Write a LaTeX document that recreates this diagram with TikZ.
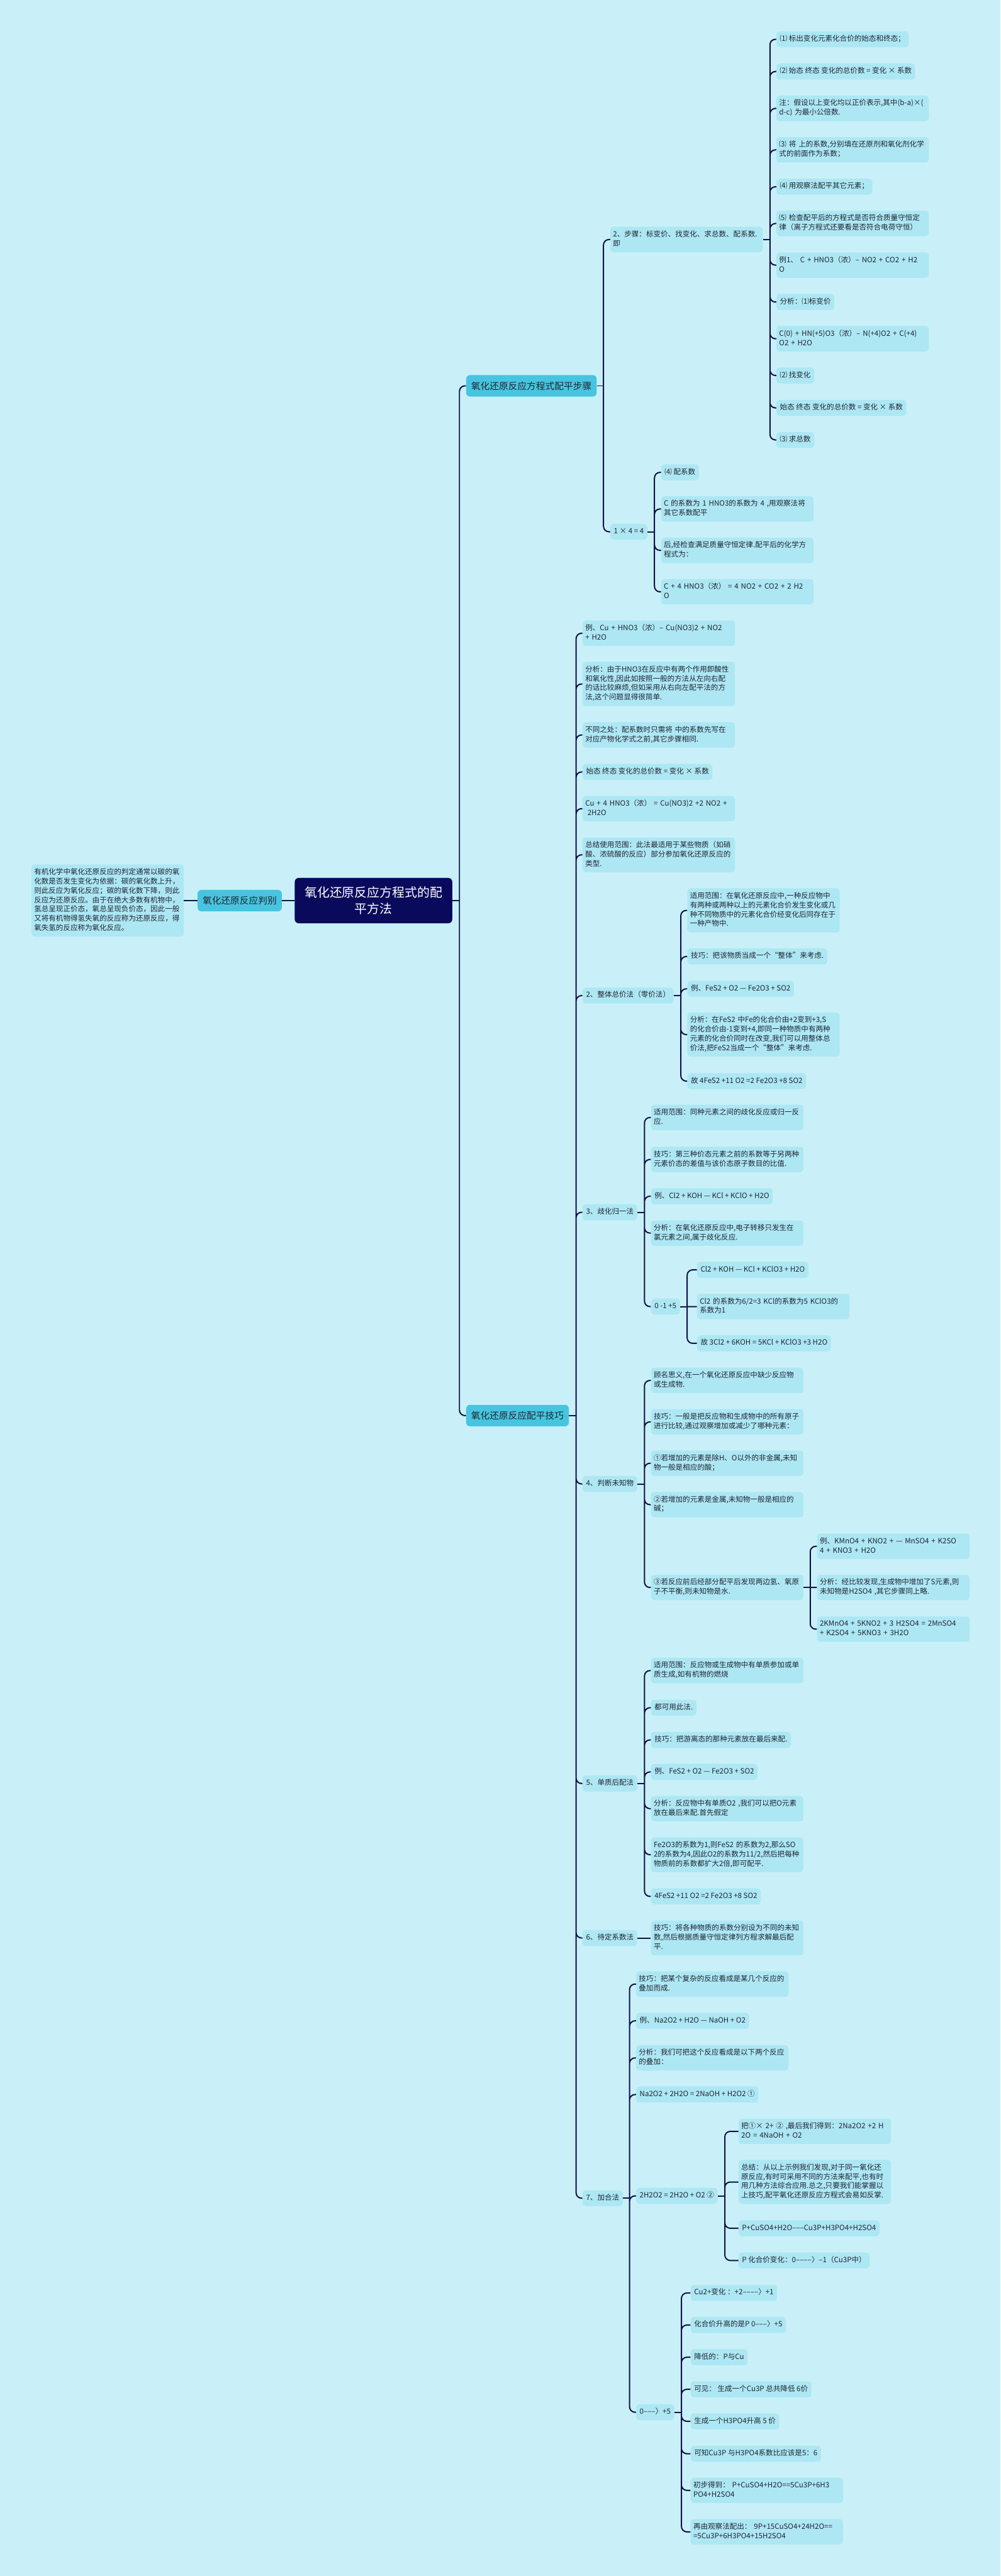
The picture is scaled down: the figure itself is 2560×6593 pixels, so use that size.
\documentclass[tikz,border=0pt]{standalone}
\usepackage{fontspec}
\setmainfont{Noto Sans CJK SC}
\usepackage{tikz}

\definecolor{bgcol}{RGB}{201,240,248}
\definecolor{leafcol}{RGB}{173,231,244}
\definecolor{topiccol}{RGB}{71,197,224}
\definecolor{rootcol}{RGB}{10,10,92}
\definecolor{linecol}{RGB}{17,17,71}
\definecolor{txtcol}{RGB}{33,37,48}

\begin{document}
\begin{tikzpicture}[
      x = 0.5pt, y = -0.5pt,
      link/.style = {draw=linecol, line width=1.6pt, rounded corners=7pt},
      leaf/.style = {fill=leafcol, rounded corners=4pt, text=txtcol, anchor=west,
                     inner xsep=4.5pt, inner ysep=4.25pt,
                     font=\fontsize{9.3}{12}\selectfont, execute at begin node=\strut},
      para/.style = {leaf, text width=188pt, align=left, inner xsep=3.5pt,
                     execute at end node=\strut},
      topic/.style = {fill=topiccol, rounded corners=5pt, text=txtcol, anchor=west,
                      inner xsep=6.5pt, minimum height=27.5pt,
                      font=\fontsize{11.85}{14}\selectfont},
      rootbox/.style = {fill=rootcol, rounded corners=5pt, text=white, align=center,
                        minimum width=201.5pt, minimum height=58pt,
                        font=\fontsize{16}{20.8}\selectfont}]

      \useasboundingbox (0,0) rectangle (2560,6593);
      \fill[bgcol] (0,0) rectangle (2560,6593);

      % centre and left side
      \node[rootbox] (root) at (955.5,2305) {氧化还原反应方程式的配\\平方法};
      \node[topic] (judge) at (505,2305) {氧化还原反应判别};
      \node[para] (organic) at (80,2305) {有机化学中氧化还原反应的判定通常以碳的氧\\化数是否发生变化为依据：碳的氧化数上升，\\则此反应为氧化反应；碳的氧化数下降，则此\\反应为还原反应。由于在绝大多数有机物中，\\氢总呈现正价态，氧总呈现负价态，因此一般\\又将有机物得氢失氧的反应称为还原反应，得\\氧失氢的反应称为氧化反应。};

      \node[topic] (steps) at (1192,987.5) {氧化还原反应方程式配平步骤};
      \node[topic] (tips) at (1192,3623) {氧化还原反应配平技巧};

      \draw[link] (organic.east) -- (judge.west) (judge.east) -- (root.west);
      \draw[link] (root.east) -- ++(9pt,0) coordinate (jroot);
      \draw[link] (jroot) |- (steps.west) (jroot) |- (tips.west);

      % steps
      \node[para] (stepsum) at (1561,613) {2、步骤：标变价、找变化、求总数、配系数.\\即};
      \node[leaf] (coef) at (1561,1361) {1 × 4 = 4};
      \draw[link] (steps.east) -- ++(8.5pt,0) coordinate (jsteps);
      \draw[link] (jsteps) |- (stepsum.west) (jsteps) |- (coef.west);

      \node[leaf] (st1) at (1986,100.6) {⑴ 标出变化元素化合价的始态和终态；};
      \node[leaf] (st2) at (1986,183) {⑵ 始态 终态 变化的总价数 = 变化 × 系数};
      \node[para] (st3) at (1986,277.5) {注：假设以上变化均以正价表示,其中(b-a)×(\\d-c) 为最小公倍数.};
      \node[para] (st4) at (1986,383.5) {⑶ 将 上的系数,分别填在还原剂和氧化剂化学\\式的前面作为系数；};
      \node[leaf] (st5) at (1986,478) {⑷ 用观察法配平其它元素；};
      \node[para] (st6) at (1986,572) {⑸ 检查配平后的方程式是否符合质量守恒定\\律（离子方程式还要看是否符合电荷守恒）};
      \node[para] (st7) at (1986,678.6) {例1、 C + HNO3（浓）– NO2 + CO2 + H2\\O};
      \node[leaf] (st8) at (1986,773) {分析：⑴标变价};
      \node[para] (st9) at (1986,867) {C(0) + HN(+5)O3（浓）– N(+4)O2 + C(+4)\\O2 + H2O};
      \node[leaf] (st10) at (1986,961) {⑵ 找变化};
      \node[leaf] (st11) at (1986,1044) {始态 终态 变化的总价数 = 变化 × 系数};
      \node[leaf] (st12) at (1986,1126) {⑶ 求总数};
      \draw[link] (stepsum.east) -- ++(9pt,0) coordinate (jsum);
      \draw[link] (jsum) |- (st1.west) (jsum) |- (st2.west) (jsum) |- (st3.west)
            (jsum) |- (st4.west) (jsum) |- (st5.west) (jsum) |- (st6.west)
            (jsum) |- (st7.west) (jsum) |- (st8.west) (jsum) |- (st9.west)
            (jsum) |- (st10.west) (jsum) |- (st11.west) (jsum) |- (st12.west);

      \node[leaf] (cf1) at (1691,1209) {⑷ 配系数};
      \node[para] (cf2) at (1691,1302.6) {C 的系数为 1 HNO3的系数为 4 ,用观察法将\\其它系数配平};
      \node[para] (cf3) at (1691,1408.6) {后,经检查满足质量守恒定律.配平后的化学方\\程式为：};
      \node[para] (cf4) at (1691,1514.7) {C + 4 HNO3（浓） = 4 NO2 + CO2 + 2 H2\\O};
      \draw[link] (coef.east) -- ++(9pt,0) coordinate (jcoef);
      \draw[link] (jcoef) |- (cf1.west) (jcoef) |- (cf2.west)
            (jcoef) |- (cf3.west) (jcoef) |- (cf4.west);

      % tips
      \node[para] (tp1) at (1490,1620.7) {例、Cu + HNO3（浓）– Cu(NO3)2 + NO2\\+ H2O};
      \node[para] (tp2) at (1490,1750.5) {分析：由于HNO3在反应中有两个作用即酸性\\和氧化性,因此如按照一般的方法从左向右配\\的话比较麻烦,但如采用从右向左配平法的方\\法,这个问题显得很简单.};
      \node[para] (tp3) at (1490,1881) {不同之处：配系数时只需将 中的系数先写在\\对应产物化学式之前,其它步骤相同.};
      \node[leaf] (tp4) at (1490,1975.7) {始态 终态 变化的总价数 = 变化 × 系数};
      \node[para] (tp5) at (1490,2069.6) {Cu + 4 HNO3（浓） = Cu(NO3)2 +2 NO2 +\\\hspace*{0.3em}2H2O};
      \node[para] (tp6) at (1490,2187.8) {总结使用范围：此法最适用于某些物质（如硝\\酸、浓硫酸的反应）部分参加氧化还原反应的\\类型.};
      \node[leaf] (whole) at (1490,2548) {2、整体总价法（零价法）};
      \node[leaf] (dispro) at (1490,3102.6) {3、歧化归一法};
      \node[leaf] (unknown) at (1490,3798) {4、判断未知物};
      \node[leaf] (single) at (1490,4564.6) {5、单质后配法};
      \node[leaf] (undet) at (1490,4960) {6、待定系数法};
      \node[leaf] (addup) at (1490,5626) {7、加合法};
      \draw[link] (tips.east) -- ++(9pt,0) coordinate (jtips);
      \draw[link] (jtips) |- (tp1.west) (jtips) |- (tp2.west) (jtips) |- (tp3.west)
            (jtips) |- (tp4.west) (jtips) |- (tp5.west) (jtips) |- (tp6.west)
            (jtips) |- (whole.west) (jtips) |- (dispro.west) (jtips) |- (unknown.west)
            (jtips) |- (single.west) (jtips) |- (undet.west) (jtips) |- (addup.west);

      % 2
      \node[para] (wh1) at (1758,2330) {适用范围：在氧化还原反应中,一种反应物中\\有两种或两种以上的元素化合价发生变化或几\\种不同物质中的元素化合价经变化后同存在于\\一种产物中.};
      \node[leaf] (wh2) at (1758,2448) {技巧：把该物质当成一个“整体”来考虑.};
      \node[leaf] (wh3) at (1758,2530.7) {例、FeS2 + O2 — Fe2O3 + SO2};
      \node[para] (wh4) at (1758,2648) {分析：在FeS2 中Fe的化合价由+2变到+3,S\\的化合价由-1变到+4,即同一种物质中有两种\\元素的化合价同时在改变,我们可以用整体总\\价法,把FeS2当成一个“整体”来考虑.};
      \node[leaf] (wh5) at (1758,2767) {故 4FeS2 +11 O2 =2 Fe2O3 +8 SO2};
      \draw[link] (whole.east) -- ++(9pt,0) coordinate (jwhole);
      \draw[link] (jwhole) |- (wh1.west) (jwhole) |- (wh2.west) (jwhole) |- (wh3.west)
            (jwhole) |- (wh4.west) (jwhole) |- (wh5.west);

      % 3
      \node[para] (dp1) at (1665,2860) {适用范围：同种元素之间的歧化反应或归一反\\应.};
      \node[para] (dp2) at (1665,2967.5) {技巧：第三种价态元素之前的系数等于另两种\\元素价态的差值与该价态原子数目的比值.};
      \node[leaf] (dp3) at (1665,3061.5) {例、Cl2 + KOH — KCl + KClO + H2O};
      \node[para] (dp4) at (1665,3156) {分析：在氧化还原反应中,电子转移只发生在\\氯元素之间,属于歧化反应.};
      \node[leaf] (dp5) at (1665,3344) {0 -1 +5};
      \draw[link] (dispro.east) -- ++(9pt,0) coordinate (jdisp);
      \draw[link] (jdisp) |- (dp1.west) (jdisp) |- (dp2.west) (jdisp) |- (dp3.west)
            (jdisp) |- (dp4.west) (jdisp) |- (dp5.west);

      \node[leaf] (vl1) at (1783,3250) {Cl2 + KOH — KCl + KClO3 + H2O};
      \node[para] (vl2) at (1783,3344) {Cl2 的系数为6/2=3 KCl的系数为5 KClO3的\\系数为1};
      \node[leaf] (vl3) at (1783,3438) {故 3Cl2 + 6KOH = 5KCl + KClO3 +3 H2O};
      \draw[link] (dp5.east) -- ++(9pt,0) coordinate (jval);
      \draw[link] (jval) |- (vl1.west) (jval) -- (vl2.west) (jval) |- (vl3.west);

      % 4
      \node[para] (uk1) at (1665,3533) {顾名思义,在一个氧化还原反应中缺少反应物\\或生成物.};
      \node[para] (uk2) at (1665,3639) {技巧：一般是把反应物和生成物中的所有原子\\进行比较,通过观察增加或减少了哪种元素：};
      \node[para] (uk3) at (1665,3745) {①若增加的元素是除H、O以外的非金属,未知\\物一般是相应的酸；};
      \node[para] (uk4) at (1665,3851) {②若增加的元素是金属,未知物一般是相应的\\碱；};
      \node[para] (uk5) at (1665,4063) {③若反应前后经部分配平后发现两边氢、氧原\\子不平衡,则未知物是水.};
      \draw[link] (unknown.east) -- ++(9pt,0) coordinate (junk);
      \draw[link] (junk) |- (uk1.west) (junk) |- (uk2.west) (junk) |- (uk3.west)
            (junk) |- (uk4.west) (junk) |- (uk5.west);

      \node[para] (wt1) at (2090,3957.5) {例、KMnO4 + KNO2 + — MnSO4 + K2SO\\4 + KNO3 + H2O};
      \node[para] (wt2) at (2090,4063) {分析：经比较发现,生成物中增加了S元素,则\\未知物是H2SO4 ,其它步骤同上略.};
      \node[para] (wt3) at (2090,4169.6) {2KMnO4 + 5KNO2 + 3 H2SO4 = 2MnSO4\\+ K2SO4 + 5KNO3 + 3H2O};
      \draw[link] (uk5.east) -- ++(8.5pt,0) coordinate (jwater);
      \draw[link] (jwater) |- (wt1.west) (jwater) -- (wt2.west) (jwater) |- (wt3.west);

      % 5
      \node[para] (sg1) at (1665,4275.6) {适用范围：反应物或生成物中有单质参加或单\\质生成,如有机物的燃烧};
      \node[leaf] (sg2) at (1665,4370.7) {都可用此法.};
      \node[leaf] (sg3) at (1665,4453) {技巧：把游离态的那种元素放在最后来配.};
      \node[leaf] (sg4) at (1665,4535) {例、FeS2 + O2 — Fe2O3 + SO2};
      \node[para] (sg5) at (1665,4629) {分析：反应物中有单质O2 ,我们可以把O元素\\放在最后来配.首先假定};
      \node[para] (sg6) at (1665,4747) {Fe2O3的系数为1,则FeS2 的系数为2,那么SO\\2的系数为4,因此O2的系数为11/2,然后把每种\\物质前的系数都扩大2倍,即可配平.};
      \node[leaf] (sg7) at (1665,4853.6) {4FeS2 +11 O2 =2 Fe2O3 +8 SO2};
      \draw[link] (single.east) -- ++(9pt,0) coordinate (jsing);
      \draw[link] (jsing) |- (sg1.west) (jsing) |- (sg2.west) (jsing) |- (sg3.west)
            (jsing) |- (sg4.west) (jsing) |- (sg5.west) (jsing) |- (sg6.west)
            (jsing) |- (sg7.west);

      % 6
      \node[para] (ud1) at (1665,4960) {技巧：将各种物质的系数分别设为不同的未知\\数,然后根据质量守恒定律列方程求解最后配\\平.};
      \draw[link] (undet.east) -- (ud1.west);

      % 7
      \node[para] (ad1) at (1627,5078) {技巧：把某个复杂的反应看成是某几个反应的\\叠加而成.};
      \node[leaf] (ad2) at (1627,5172) {例、Na2O2 + H2O — NaOH + O2};
      \node[para] (ad3) at (1627,5267) {分析：我们可把这个反应看成是以下两个反应\\的叠加：};
      \node[leaf] (ad4) at (1627,5360.7) {Na2O2 + 2H2O = 2NaOH + H2O2 ①};
      \node[leaf] (ad5) at (1627,5620) {2H2O2 = 2H2O + O2 ②};
      \node[leaf] (ad6) at (1627,6173.8) {0–––〉+5};
      \draw[link] (addup.east) -- ++(8.5pt,0) coordinate (jadd);
      \draw[link] (jadd) |- (ad1.west) (jadd) |- (ad2.west) (jadd) |- (ad3.west)
            (jadd) |- (ad4.west) (jadd) |- (ad5.west) (jadd) |- (ad6.west);

      \node[para] (pe1) at (1889,5455) {把①× 2+ ② ,最后我们得到：2Na2O2 +2 H\\2O = 4NaOH + O2};
      \node[para] (pe2) at (1889,5584.6) {总结：从以上示例我们发现,对于同一氧化还\\原反应,有时可采用不同的方法来配平,也有时\\用几种方法综合应用.总之,只要我们能掌握以\\上技巧,配平氧化还原反应方程式会易如反掌.};
      \node[leaf] (pe3) at (1889,5703) {P+CuSO4+H2O–––Cu3P+H3PO4+H2SO4};
      \node[leaf] (pe4) at (1889,5785.4) {P 化合价变化：0––––〉–1（Cu3P中）};
      \draw[link] (ad5.east) -- ++(9pt,0) coordinate (jperox);
      \draw[link] (jperox) |- (pe1.west) (jperox) |- (pe2.west)
            (jperox) |- (pe3.west) (jperox) |- (pe4.west);

      \node[leaf] (ph1) at (1766.5,5868.6) {Cu2+变化 ：+2––––〉+1};
      \node[leaf] (ph2) at (1766.5,5950.6) {化合价升高的是P 0–––〉+5};
      \node[leaf] (ph3) at (1766.5,6033) {降低的：P与Cu};
      \node[leaf] (ph4) at (1766.5,6115) {可见： 生成一个Cu3P 总共降低 6价};
      \node[leaf] (ph5) at (1766.5,6197) {生成一个H3PO4升高 5 价};
      \node[leaf] (ph6) at (1766.5,6280) {可知Cu3P 与H3PO4系数比应该是5：6};
      \node[para] (ph7) at (1766.5,6373.7) {初步得到： P+CuSO4+H2O==5Cu3P+6H3\\PO4+H2SO4};
      \node[para] (ph8) at (1766.5,6480) {再由观察法配出： 9P+15CuSO4+24H2O==\\=5Cu3P+6H3PO4+15H2SO4};
      \draw[link] (ad6.east) -- ++(9pt,0) coordinate (jphos);
      \draw[link] (jphos) |- (ph1.west) (jphos) |- (ph2.west) (jphos) |- (ph3.west)
            (jphos) |- (ph4.west) (jphos) |- (ph5.west) (jphos) |- (ph6.west)
            (jphos) |- (ph7.west) (jphos) |- (ph8.west);
\end{tikzpicture}
\end{document}
